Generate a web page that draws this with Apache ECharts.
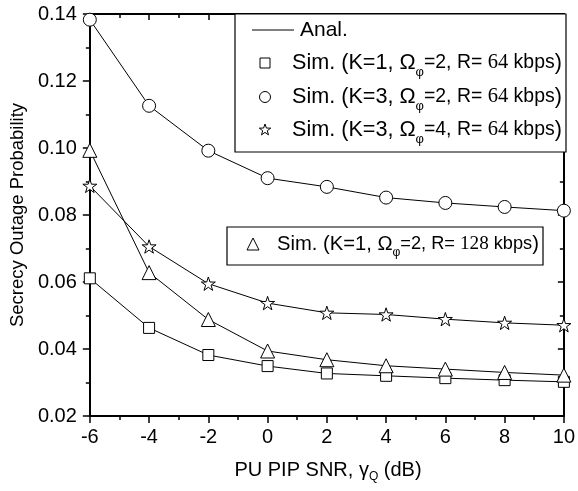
<!DOCTYPE html>
<html>
<head>
<meta charset="utf-8">
<script src="https://cdn.jsdelivr.net/npm/echarts@6/dist/echarts.min.js"></script>
<style>
  html, body { margin: 0; padding: 0; background: #fff; }
  #myEcharts { width: 578px; height: 491px; }
</style>
</head>
<body>
<div id="myEcharts"></div>
<script>
// x: PU PIP SNR (dB)
const snr = [-6, -4, -2, 0, 2, 4, 6, 8, 10];
// 各曲线数据
const k1w2r64 = [0.0611, 0.0463, 0.0382, 0.0349, 0.0327, 0.0320, 0.0313, 0.0307, 0.0302];
const k3w2r64 = [0.1383, 0.1126, 0.0992, 0.0910, 0.0884, 0.0852, 0.0836, 0.0824, 0.0813];
const k3w4r64 = [0.0887, 0.0706, 0.0595, 0.0537, 0.0508, 0.0503, 0.0489, 0.0478, 0.0471];
const k1w2r128 = [0.0993, 0.0628, 0.0488, 0.0394, 0.0368, 0.0350, 0.0340, 0.0330, 0.0322];

const starPath = 'path://M50,2 L61,36 L97,36 L68,57 L79,92 L50,71 L21,92 L32,57 L3,36 L39,36 Z';
const FONT = '"Liberation Sans", Arial, sans-serif';
const SERIF = '"Liberation Serif", "Times New Roman", serif';

function pairs(ys) {
    return snr.map((x, i) => [x, ys[i]]);
}

function curve(name, ys, symbol, size) {
    return {
        name: name,
        type: 'line',
        xAxisIndex: 0,
        yAxisIndex: 0,
        data: pairs(ys),
        symbol: symbol,
        symbolSize: size,
        symbolKeepAspect: true,
        showAllSymbol: true,
        lineStyle: { color: '#000', width: 1 },
        itemStyle: { color: '#fff', borderColor: '#000', borderWidth: 1 },
        emphasis: { disabled: true },
        animation: false
    };
}

function rich(k) {
    return {
        a: { fontFamily: FONT, fontSize: 20 * k, fill: '#000' },
        s: { fontFamily: FONT, fontSize: 12 * k, fill: '#000', padding: [18 * k, 0, 0, 0] },
        b: { fontFamily: FONT, fontSize: 18 * k, fill: '#000' },
        n: { fontFamily: SERIF, fontSize: 19 * k, fill: '#000' },
        c: { fontFamily: FONT, fontSize: 20 * k, fill: '#000' }
    };
}

function legendText(k, w, r) {
    return '{a|Sim. (K=' + k + ', Ω}{s|φ}{b|=' + w + ', R= }{n|' + r + '}{b| kbps}{c|)}';
}

function icon(shape, x, y, size) {
    const st = { fill: '#fff', stroke: '#000', lineWidth: 1 };
    if (shape === 'rect') {
        return { type: 'rect', shape: { x: x - size / 2, y: y - size / 2, width: size, height: size }, style: st };
    }
    if (shape === 'circle') {
        return { type: 'circle', shape: { cx: x, cy: y, r: size / 2 }, style: st };
    }
    if (shape === 'triangle') {
        return { type: 'polygon', shape: { points: [[x, y - size / 2], [x + size / 2, y + size / 2], [x - size / 2, y + size / 2]] }, style: st };
    }
    // star
    const pts = [];
    for (let i = 0; i < 10; i++) {
        const rr = i % 2 === 0 ? size / 2 : size / 5;
        const a = -Math.PI / 2 + i * Math.PI / 5;
        pts.push([x + rr * Math.cos(a), y + rr * Math.sin(a)]);
    }
    return { type: 'polygon', shape: { points: pts }, style: st };
}

const r1 = rich(1.08);
const r2 = rich(1.01);

let chart = echarts.init(document.getElementById('myEcharts'));
chart.setOption({
    backgroundColor: '#fff',
    animation: false,
    grid: { left: 88, right: 9, top: 14, bottom: 75 },
    xAxis: [
        {
            type: 'value', position: 'bottom', min: -6, max: 10, interval: 2,
            axisLine: { show: true, onZero: false, lineStyle: { color: '#000', width: 2 } },
            axisTick: { show: true, inside: false, length: 7, lineStyle: { color: '#000', width: 1.5 } },
            minorTick: { show: true, splitNumber: 2, length: 4, lineStyle: { color: '#000', width: 1.5 } },
            axisLabel: { color: '#000', fontFamily: FONT, fontSize: 20, margin: 11 },
            splitLine: { show: false }
        },
        {
            type: 'value', position: 'top', min: -6, max: 10, interval: 2,
            axisLine: { show: true, onZero: false, lineStyle: { color: '#000', width: 2 } },
            axisTick: { show: true, inside: true, length: 6, lineStyle: { color: '#000', width: 1.5 } },
            minorTick: { show: true, splitNumber: 2, length: 4, lineStyle: { color: '#000', width: 1.5 } },
            axisLabel: { show: false },
            splitLine: { show: false }
        }
    ],
    yAxis: [
        {
            type: 'value', position: 'left', min: 0.02, max: 0.14, interval: 0.02,
            name: 'Secrecy Outage Probability',
            nameLocation: 'middle', nameGap: 61,
            nameTextStyle: { color: '#000', fontFamily: FONT, fontSize: 18.5 },
            axisLine: { show: true, onZero: false, lineStyle: { color: '#000', width: 2 } },
            axisTick: { show: true, inside: false, length: 7, lineStyle: { color: '#000', width: 1.5 } },
            minorTick: { show: true, splitNumber: 2, length: 4, lineStyle: { color: '#000', width: 1.5 } },
            axisLabel: { color: '#000', fontFamily: FONT, fontSize: 20, margin: 13,
                formatter: v => v.toFixed(2) },
            splitLine: { show: false }
        },
        {
            type: 'value', position: 'right', min: 0.02, max: 0.14, interval: 0.02,
            axisLine: { show: true, onZero: false, lineStyle: { color: '#000', width: 2 } },
            axisTick: { show: true, inside: true, length: 6, lineStyle: { color: '#000', width: 1.5 } },
            minorTick: { show: true, splitNumber: 2, length: 4, lineStyle: { color: '#000', width: 1.5 } },
            axisLabel: { show: false },
            splitLine: { show: false }
        }
    ],
    series: [
        curve('Sim. (K=1, Ω=2, R=64 kbps)', k1w2r64, 'rect', 11),
        curve('Sim. (K=3, Ω=2, R=64 kbps)', k3w2r64, 'circle', 13),
        curve('Sim. (K=3, Ω=4, R=64 kbps)', k3w4r64, starPath, 14),
        curve('Sim. (K=1, Ω=2, R=128 kbps)', k1w2r128, 'triangle', 14)
    ],
    graphic: [
        // legend 1
        { type: 'rect', shape: { x: 235, y: 14, width: 331, height: 138 },
          style: { fill: '#fff', stroke: '#000', lineWidth: 1.2 }, z: 10 },
        { type: 'line', shape: { x1: 252, y1: 30, x2: 294, y2: 30 },
          style: { stroke: '#000', lineWidth: 1 }, z: 11 },
        { type: 'text', x: 300, y: 30, z: 11,
          style: { text: 'Anal.', font: '21px ' + FONT, fill: '#000', verticalAlign: 'middle' } },
        Object.assign(icon('rect', 265, 63, 10), { z: 11 }),
        { type: 'text', x: 292, y: 63, z: 11,
          style: { text: legendText(1, 2, 64), rich: r1, verticalAlign: 'middle' } },
        Object.assign(icon('circle', 265, 97, 11), { z: 11 }),
        { type: 'text', x: 292, y: 97, z: 11,
          style: { text: legendText(3, 2, 64), rich: r1, verticalAlign: 'middle' } },
        Object.assign(icon('star', 265, 130, 12), { z: 11 }),
        { type: 'text', x: 292, y: 130, z: 11,
          style: { text: legendText(3, 4, 64), rich: r1, verticalAlign: 'middle' } },
        // legend 2
        { type: 'rect', shape: { x: 227, y: 227, width: 316, height: 38 },
          style: { fill: '#fff', stroke: '#000', lineWidth: 1.2 }, z: 10 },
        Object.assign(icon('triangle', 253, 244, 12), { z: 11 }),
        { type: 'text', x: 277, y: 244, z: 11,
          style: { text: legendText(1, 2, 128), rich: r2, verticalAlign: 'middle' } },
        // x axis name
        { type: 'text', x: 328, y: 470, z: 11,
          style: { text: '{a|PU PIP SNR, γ}{s|Q}{a| (dB)}', verticalAlign: 'middle', align: 'center',
            rich: {
                a: { fontFamily: FONT, fontSize: 20, fill: '#000' },
                s: { fontFamily: FONT, fontSize: 12, fill: '#000', padding: [14, 0, 0, 0] }
            } } }
    ]
});
window.onresize = function() {
    chart.resize();
};
</script>
</body>
</html>
